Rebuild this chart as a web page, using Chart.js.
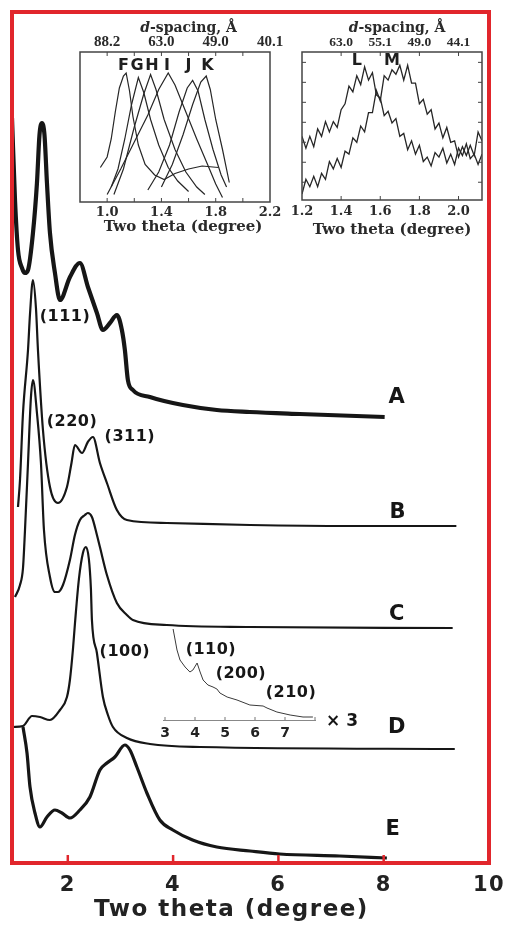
<!DOCTYPE html>
<html><head><meta charset="utf-8">
<script src="https://cdn.jsdelivr.net/npm/chart.js@4.4.0/dist/chart.umd.min.js"></script>
<style>
html,body{margin:0;padding:0;background:#fff;}
#wrap{position:relative;width:505px;height:925px;overflow:hidden;background:#fff;}
#wrap canvas{position:absolute;}
</style></head><body>
<div id="wrap">
<canvas id="main" width="505" height="925" style="left:0;top:0"></canvas>
<canvas id="in1" width="235" height="225" style="left:60px;top:15px"></canvas>
<canvas id="in2" width="223" height="225" style="left:282px;top:15px"></canvas>
<canvas id="in3" width="230" height="135" style="left:140px;top:615px"></canvas>
</div>
<script>
// ---------------- main XRD patterns (two theta in degree, counts above each curve's baseline) ----------------
const mainTickValues = [2, 4, 6, 8, 10];
const curveLabels = ['A', 'B', 'C', 'D', 'E'];
const curveOffsets = [446, 337, 235, 114, 5];

const thetaA = [0.94,0.997,1.054,1.13,1.187,1.244,1.338,1.414,1.462,1.509,1.557,1.604,1.661,1.756,1.851,2.041,2.23,2.382,2.553,2.667,2.8,2.932,3.027,3.084,3.141,3.236,3.559,4.185,4.83,5.456,6.405,8.018];
const countsA = [299,217,167,149,144,147,184,234,282,294,282,234,184,144,117,140,154,130,104,87,94,102,87,67,37,27,20,12,7,5,3,0];

const thetaB = [1.054,1.092,1.149,1.244,1.282,1.338,1.395,1.433,1.528,1.661,1.813,1.984,2.07,2.135,2.27,2.38,2.477,2.61,2.743,2.932,3.122,3.88,5.46,7.35,9.38];
const countsB = [19,46,113,176,212,246,218,176,96,39,23,39,63,81,73,84,89,63,43,16,6,3,1,0,0];

const thetaC = [0.997,1.092,1.149,1.187,1.244,1.30,1.338,1.414,1.49,1.547,1.661,1.756,1.813,1.908,2.04,2.135,2.23,2.325,2.38,2.458,2.553,2.61,2.743,2.932,3.122,3.236,3.88,5.46,9.31];
const countsC = [31,43,60,98,165,231,248,215,165,98,51,36,36,43,68,93,108,113,115,111,93,81,53,25,13,8,3,1,0];

const thetaD = [0.96,1.149,1.32,1.471,1.661,1.851,1.984,2.04,2.098,2.135,2.211,2.287,2.344,2.40,2.439,2.458,2.553,2.667,2.762,2.857,3.122,3.56,4.51,9.35];
const countsD = [22,23,33,32,29,39,52,69,100,125,170,196,202,190,160,129,96,52,34,22,11,5,2,0];

const thetaE = [1.149,1.225,1.282,1.376,1.471,1.604,1.756,1.889,2.04,2.23,2.42,2.61,2.743,2.894,3.084,3.18,3.312,3.502,3.748,3.995,4.37,4.83,5.46,6.025,7.16,8.06];
const countsE = [131,105,71,45,31,41,48,45,40,48,61,88,95,101,113,108,91,65,38,28,18,11,7,4,2,0];

// peak index labels
const peakLabelText = ['(111)', '(220)', '(311)', '(100)'];
const peakLabelTheta = [1.946, 2.079, 3.179, 3.084];
const peakLabelCounts = [546, 441, 426, 211];
const curveLabelTheta = [8.245, 8.264, 8.245, 8.245, 8.17];
const curveLabelCounts = [465, 350, 248, 135, 33];

// ---------------- inset D (x3 tail) ----------------
const tailTicks = [3, 4, 5, 6, 7];
const tailTheta = [3.27,3.40,3.50,3.67,3.83,3.93,4.07,4.17,4.27,4.43,4.60,4.73,4.83,5.07,5.40,5.83,6.27,6.40,6.73,7.17,7.60,7.93];
const tailCounts = [91,70,60,53,48,50,57,48,40,35,33,31,27,23,20,15,14,12,8,5,3,3];
const tailLabelText = ['(110)', '(200)', '(210)'];
const tailLabelTheta = [4.53, 5.53, 7.2];
const tailLabelCounts = [70, 46, 27];

// ---------------- inset 1: samples F-K ----------------
const inset1Ticks = [1.0, 1.4, 1.8, 2.2];
const inset1DTheta = [1.0, 1.4, 1.8, 2.2];
const inset1DLabels = ['88.2', '63.0', '49.0', '40.1'];
const thetaF = [0.95,1.0,1.03,1.06,1.09,1.12,1.14,1.165,1.19,1.23,1.28,1.35,1.42,1.50,1.60,1.70,1.82];
const intF   = [23,30,42,60,76,84,86,74,57,38,25,18,15,19,22,24,23];
const thetaG = [1.03,1.08,1.13,1.18,1.23,1.27,1.32,1.38,1.45,1.52,1.60];
const intG   = [10,22,42,65,83,73,55,38,23,14,7];
const thetaH = [1.05,1.12,1.20,1.27,1.32,1.36,1.42,1.50,1.58,1.66,1.72];
const intH   = [5,22,50,72,85,75,55,35,20,10,5];
const thetaI = [1.0,1.1,1.2,1.3,1.38,1.45,1.50,1.58,1.66,1.74,1.80,1.85];
const intI   = [5,22,40,58,75,86,78,60,42,25,12,3];
const thetaJ = [1.30,1.38,1.46,1.53,1.59,1.63,1.67,1.72,1.78,1.84,1.88];
const intJ   = [8,20,38,60,76,81,74,55,35,18,10];
const thetaK = [1.40,1.48,1.56,1.63,1.69,1.73,1.76,1.80,1.85,1.90];
const intK   = [10,25,45,65,80,84,75,55,35,13];
const inset1Names = ['F', 'G', 'H', 'I', 'J', 'K'];
const inset1NameTheta = [1.12, 1.22, 1.33, 1.44, 1.60, 1.74];

// ---------------- inset 2: samples L, M ----------------
const inset2Ticks = [1.2, 1.4, 1.6, 1.8, 2.0];
const inset2DTheta = [1.4, 1.6, 1.8, 2.0];
const inset2DLabels = ['63.0', '55.1', '49.0', '44.1'];
const thetaLM = [1.20,1.22,1.24,1.26,1.28,1.30,1.32,1.34,1.36,1.38,1.40,1.42,1.44,1.46,1.48,1.50,1.52,1.54,1.56,1.58,1.60,1.62,1.64,1.66,1.68,1.70,1.72,1.74,1.76,1.78,1.80,1.82,1.84,1.86,1.88,1.90,1.92,1.94,1.96,1.98,2.00,2.02,2.04,2.06,2.08,2.10,2.12];
const intL = [43,35,43,36,48,43,53,46,53,49,61,65,77,73,84,78,90,81,86,71,69,57,60,52,55,43,45,34,40,31,37,26,29,23,32,29,35,25,31,24,35,30,38,28,31,24,31];
const intM = [4,14,9,16,9,18,14,26,21,28,22,33,31,42,39,50,46,59,59,74,67,84,81,88,85,91,81,91,79,79,65,68,58,61,48,52,42,49,39,40,29,36,30,37,30,46,40];
const inset2Names = ['L', 'M'];
const inset2NameTheta = [1.48, 1.66];

// ---------------- helpers ----------------
const RED = '#e1262c';
const INK = '#161616';
const SANS = '"DejaVu Sans", "Liberation Sans", sans-serif';
const SERIF = '"DejaVu Serif", "Liberation Serif", serif';
const TIMES = '"Liberation Serif", serif';
function pts(xs, ys, off) { return xs.map((x, i) => ({x: x, y: ys[i] + (off || 0)})); }
function near(v, arr) { return arr.findIndex(a => Math.abs(a - v) < 1e-6); }
function noSidePad(h) { return s => { s.height = h; s.paddingLeft = 0; s.paddingRight = 0; }; }

// ---------------- main chart ----------------
const mainSeries = [
  [thetaA, countsA, 4.2],
  [thetaB, countsB, 2.2],
  [thetaC, countsC, 2.2],
  [thetaD, countsD, 2.2],
  [thetaE, countsE, 3.2]
];
const mainDatasets = mainSeries.map((s, i) => ({
  label: curveLabels[i],
  data: pts(s[0], s[1], curveOffsets[i]),
  borderColor: INK, borderWidth: s[2], pointRadius: 0, fill: false,
  cubicInterpolationMode: 'monotone'
}));

const mainDeco = {
  id: 'mainDeco',
  beforeDraw(chart) { chart.ctx.letterSpacing = '1.5px'; },
  afterDraw(chart) {
    const ctx = chart.ctx, a = chart.chartArea, xs = chart.scales.x, ys = chart.scales.y;
    ctx.save();
    ctx.letterSpacing = '0.5px';
    ctx.strokeStyle = RED; ctx.lineWidth = 4;
    ctx.strokeRect(a.left, a.top, a.right - a.left, a.bottom - a.top);
    ctx.lineWidth = 2.5;
    mainTickValues.forEach(v => {
      const x = xs.getPixelForValue(v);
      if (x > a.right - 2) return;
      ctx.beginPath(); ctx.moveTo(x, a.bottom); ctx.lineTo(x, a.bottom - 8); ctx.stroke();
    });
    ctx.fillStyle = INK; ctx.textAlign = 'center'; ctx.textBaseline = 'middle';
    ctx.font = 'bold 16px ' + SANS;
    peakLabelText.forEach((t, i) => ctx.fillText(t, xs.getPixelForValue(peakLabelTheta[i]), ys.getPixelForValue(peakLabelCounts[i])));
    ctx.letterSpacing = '0px';
    ctx.font = 'bold 21px ' + SANS;
    curveLabels.forEach((t, i) => ctx.fillText(t, xs.getPixelForValue(curveLabelTheta[i]), ys.getPixelForValue(curveLabelCounts[i])));
    ctx.restore();
    ctx.letterSpacing = '0px';
  }
};

new Chart(document.getElementById('main'), {
  type: 'line',
  data: {datasets: mainDatasets},
  options: {
    responsive: false, animation: false, devicePixelRatio: 1,
    layout: {padding: {left: 12, right: 16, top: 12, bottom: 0}},
    plugins: {legend: {display: false}, tooltip: {enabled: false}},
    scales: {
      x: {
        type: 'linear', min: 0.94, max: 10,
        afterFit: noSidePad(62),
        grid: {display: false, drawTicks: false}, border: {display: false},
        ticks: {stepSize: 2, includeBounds: false, autoSkip: false, maxRotation: 0, padding: 10,
          color: '#222', font: {family: SANS, weight: 'bold', size: 21},
          callback: v => near(v, mainTickValues) >= 0 ? String(Math.round(v)) : ''},
        title: {display: true, text: 'Two theta (degree)\u00a0\u00a0\u00a0\u00a0', color: '#222',
          font: {family: SANS, weight: 'bold', size: 23}, padding: {top: 0, bottom: 1}}
      },
      y: {display: false, min: 0, max: 851}
    }
  },
  plugins: [mainDeco]
});

// ---------------- inset decoration plugin ----------------
const insetDeco = {
  id: 'insetDeco',
  afterDraw(chart, args, o) {
    const ctx = chart.ctx, a = chart.chartArea, xs = chart.scales.x, ys = chart.scales.y;
    ctx.save();
    ctx.strokeStyle = '#444'; ctx.lineWidth = 1.5;
    ctx.strokeRect(a.left, a.top, a.right - a.left, a.bottom - a.top);
    ctx.lineWidth = 1;
    xs.ticks.forEach(t => {
      const x = xs.getPixelForValue(t.value);
      if (x <= a.left + 1 || x >= a.right - 1) return;
      ctx.beginPath(); ctx.moveTo(x, a.bottom); ctx.lineTo(x, a.bottom - 4);
      ctx.moveTo(x, a.top); ctx.lineTo(x, a.top + 4); ctx.stroke();
    });
    (o.yTicks || []).forEach(v => {
      const y = ys.getPixelForValue(v);
      ctx.beginPath(); ctx.moveTo(a.left, y); ctx.lineTo(a.left + 4, y);
      ctx.moveTo(a.right, y); ctx.lineTo(a.right - 4, y); ctx.stroke();
    });
    ctx.fillStyle = '#1e1e1e'; ctx.textAlign = 'center'; ctx.textBaseline = 'middle';
    ctx.font = 'bold 16px ' + SANS;
    o.names.forEach((t, i) => ctx.fillText(t, xs.getPixelForValue(o.nameTheta[i]), ys.getPixelForValue(o.nameY)));
    ctx.fillStyle = '#2a2a2a';
    ctx.font = 'bold 15px ' + SERIF;
    ctx.fillText('Two theta (degree)', xs.getPixelForValue(o.bottomTitleTheta), a.bottom + o.bottomTitleDy);
    ctx.textAlign = 'left';
    ctx.font = 'italic bold 14px ' + SERIF; const w1 = ctx.measureText('d').width;
    ctx.font = 'bold 14px ' + SERIF; const w2 = ctx.measureText('-spacing, Å').width;
    const tx = xs.getPixelForValue(o.topTitleTheta) - (w1 + w2) / 2, ty = a.top - 24;
    ctx.font = 'italic bold 14px ' + SERIF; ctx.fillText('d', tx, ty);
    ctx.font = 'bold 14px ' + SERIF; ctx.fillText('-spacing, Å', tx + w1, ty);
    ctx.restore();
  }
};

function insetChart(id, cfg) {
  return new Chart(document.getElementById(id), {
    type: 'line',
    data: {datasets: cfg.series.map(s => ({
      data: pts(s[0], s[1]), borderColor: '#262626', borderWidth: cfg.lw, pointRadius: 0, fill: false, tension: 0
    }))},
    options: {
      responsive: false, animation: false, devicePixelRatio: 1,
      layout: {padding: {left: 20, right: cfg.padRight, top: 0, bottom: 0}},
      plugins: {legend: {display: false}, tooltip: {enabled: false}, insetDeco: cfg.deco},
      scales: {
        x: {type: 'linear', position: 'bottom', min: cfg.min, max: cfg.max,
          afterFit: noSidePad(cfg.bottomH),
          grid: {display: false, drawTicks: false}, border: {display: false},
          ticks: {stepSize: 0.2, includeBounds: false, autoSkip: false, maxRotation: 0, padding: cfg.bottomPad, color: '#2a2a2a',
            font: {family: SERIF, weight: 'bold', size: 13},
            callback: v => near(v, cfg.ticks) >= 0 ? v.toFixed(1) : ''}},
        xTop: {type: 'linear', position: 'top', min: cfg.min, max: cfg.max,
          afterFit: noSidePad(37),
          grid: {display: false, drawTicks: false}, border: {display: false},
          ticks: {stepSize: 0.2, includeBounds: false, autoSkip: false, maxRotation: 0, padding: 1, color: '#2a2a2a',
            font: {family: TIMES, weight: 'bold', size: cfg.topSize},
            callback: v => { const k = near(v, cfg.dTheta); return k >= 0 ? cfg.dLabels[k] : ''; }}},
        y: {display: false, min: 0, max: 100}
      }
    },
    plugins: [insetDeco]
  });
}

insetChart('in1', {
  min: 0.8, max: 2.2, padRight: 25, bottomH: 38, bottomPad: 3, lw: 1.2, topSize: 15,
  ticks: inset1Ticks, dTheta: inset1DTheta, dLabels: inset1DLabels,
  series: [[thetaF, intF], [thetaG, intG], [thetaH, intH], [thetaI, intI], [thetaJ, intJ], [thetaK, intK]],
  deco: {names: inset1Names, nameTheta: inset1NameTheta, nameY: 90.5, bottomTitleTheta: 1.56, bottomTitleDy: 25, topTitleTheta: 1.60, yTicks: []}
});

insetChart('in2', {
  min: 1.2, max: 2.12, padRight: 23, bottomH: 40, bottomPad: 4, lw: 1.3, topSize: 13.5,
  ticks: inset2Ticks, dTheta: inset2DTheta, dLabels: inset2DLabels,
  series: [[thetaLM, intL], [thetaLM, intM]],
  deco: {names: inset2Names, nameTheta: inset2NameTheta, nameY: 94, bottomTitleTheta: 1.66, bottomTitleDy: 30, topTitleTheta: 1.686,
    yTicks: [12, 25.5, 39, 52.5, 66, 79.5, 93]}
});

// ---------------- inset D tail (x3) ----------------
const tailDeco = {
  id: 'tailDeco',
  afterDraw(chart) {
    const ctx = chart.ctx, a = chart.chartArea, xs = chart.scales.x, ys = chart.scales.y;
    ctx.save();
    ctx.strokeStyle = '#777'; ctx.lineWidth = 1;
    xs.ticks.forEach(t => {
      const x = xs.getPixelForValue(t.value);
      ctx.beginPath(); ctx.moveTo(x, a.bottom); ctx.lineTo(x, a.bottom - 3); ctx.stroke();
    });
    ctx.fillStyle = INK; ctx.textAlign = 'center'; ctx.textBaseline = 'middle';
    ctx.letterSpacing = '0.5px';
    ctx.font = 'bold 16px ' + SANS;
    tailLabelText.forEach((t, i) => ctx.fillText(t, xs.getPixelForValue(tailLabelTheta[i]), ys.getPixelForValue(tailLabelCounts[i])));
    ctx.letterSpacing = '0px';
    ctx.font = 'bold 17px ' + SANS;
    ctx.fillText('× 3', xs.getPixelForValue(8.9), ys.getPixelForValue(-2));
    ctx.restore();
  }
};

new Chart(document.getElementById('in3'), {
  type: 'line',
  data: {datasets: [{data: pts(tailTheta, tailCounts), borderColor: '#3a3a3a', borderWidth: 1, pointRadius: 0, fill: false, tension: 0}]},
  options: {
    responsive: false, animation: false, devicePixelRatio: 1,
    layout: {padding: {left: 23, right: 55, top: 5, bottom: 0}},
    plugins: {legend: {display: false}, tooltip: {enabled: false}},
    scales: {
      x: {type: 'linear', min: 2.933, max: 8.0,
        afterFit: noSidePad(30),
        grid: {display: false, drawTicks: false}, border: {display: true, color: '#888', width: 1},
        ticks: {stepSize: 1, includeBounds: false, autoSkip: false, maxRotation: 0, padding: 5, color: '#222',
          font: {family: SANS, weight: 'bold', size: 14},
          callback: v => near(v, tailTicks) >= 0 ? String(Math.round(v)) : ''}},
      y: {display: false, min: 0, max: 100}
    }
  },
  plugins: [tailDeco]
});
</script>
</body></html>
